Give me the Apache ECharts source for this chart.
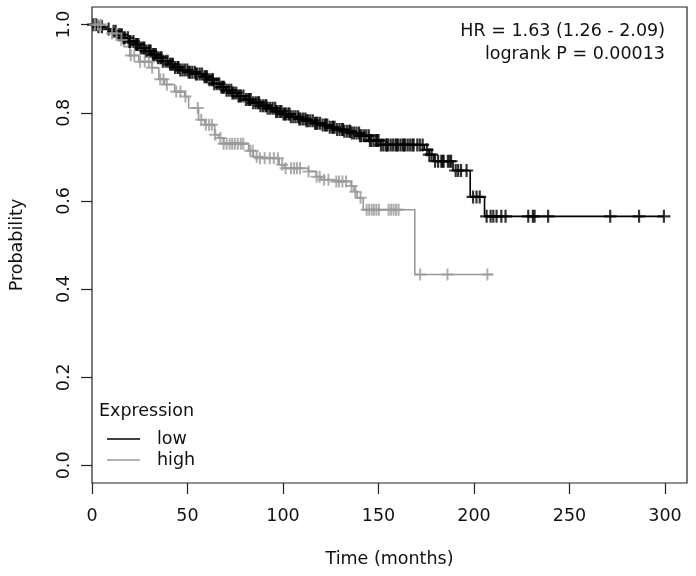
<!DOCTYPE html>
<html>
<head>
<meta charset="utf-8">
<script src="https://cdn.jsdelivr.net/npm/echarts@6/dist/echarts.min.js"></script>
<style>html,body{margin:0;padding:0;background:#fff}#c{width:696px;height:576px}</style>
</head>
<body>
<div id="c"></div>
<script>
// ---- data ----
var xTicks = [0, 50, 100, 150, 200, 250, 300];
var yTicks = [0, 0.2, 0.4, 0.6, 0.8, 1.0];

// Kaplan-Meier step points (time in months, survival probability)
var lowTimes = [0, 3, 7, 10, 13, 16, 19, 22, 25, 28, 31, 34, 37, 40, 43, 46, 50, 54, 58, 61, 64, 67, 70, 73, 76, 80, 84, 88, 92, 96, 100, 104, 108, 112, 116, 120, 124, 128, 132, 136, 140, 145, 151, 174, 176.5, 179, 189, 198, 205.5, 299.5];
var lowSurv  = [1.0, 0.995, 0.99, 0.985, 0.977, 0.97, 0.962, 0.955, 0.947, 0.94, 0.932, 0.925, 0.917, 0.91, 0.903, 0.897, 0.892, 0.888, 0.882, 0.875, 0.866, 0.858, 0.851, 0.845, 0.838, 0.83, 0.823, 0.816, 0.81, 0.803, 0.797, 0.791, 0.786, 0.782, 0.776, 0.772, 0.767, 0.762, 0.758, 0.754, 0.748, 0.737, 0.727, 0.716, 0.705, 0.69, 0.669, 0.609, 0.565, 0.565];

var highTimes = [0, 6.8, 10.4, 14.6, 16.7, 19.8, 24.5, 31.3, 35, 38, 43.3, 48.5, 50.6, 55.8, 59, 64.2, 66.3, 68.9, 82, 84.5, 87.7, 98, 100.7, 113.2, 117.4, 120, 125.2, 135.6, 137.2, 138.8, 142, 169, 210];
var highSurv  = [1.0, 0.99, 0.98, 0.965, 0.95, 0.93, 0.916, 0.902, 0.876, 0.864, 0.848, 0.837, 0.811, 0.784, 0.773, 0.75, 0.743, 0.73, 0.714, 0.70, 0.697, 0.682, 0.674, 0.667, 0.655, 0.648, 0.644, 0.634, 0.621, 0.607, 0.58, 0.433, 0.433];

// censoring times
var lowCensor = [0.8, 2.1, 3.4, 5.2, 8.7, 11.3, 13.9, 15.6, 17.2, 18.8, 20.1, 21.7, 22.9, 24.3, 25.6, 26.8, 28.2, 29.5, 30.7, 31.9, 33.4, 34.6, 35.8, 37.1, 38.5, 39.6, 40.9, 42.3, 43.5, 44.8, 46.2, 47.4, 48.6, 49.9, 51.3, 52.5, 53.8, 55.1, 56.4, 57.6, 58.9, 60.2, 61.5, 62.7, 64.0, 65.3, 66.6, 67.8, 69.1, 70.4, 71.6, 72.9, 74.2, 75.5, 76.7, 78.0, 79.3, 80.6, 81.8, 83.1, 84.4, 85.7, 86.9, 88.2, 89.5, 90.8, 92.0, 93.3, 94.6, 95.9, 97.1, 98.4, 99.2, 100.3, 101.5, 102.8, 104.1, 105.4, 106.6, 107.9, 109.2, 110.5, 111.7, 113.0, 114.3, 115.6, 116.8, 118.1, 119.4, 120.7, 121.9, 123.2, 124.5, 125.8, 127.0, 128.3, 129.6, 130.9, 132.1, 133.4, 134.7, 136.0, 137.2, 138.5, 139.8, 141.1, 143.6, 144.9, 146.2, 147.4, 148.7, 150.0, 151.3, 152.5, 153.8, 155.1, 156.4, 157.6, 158.9, 160.2, 161.5, 162.7, 164.0, 165.3, 166.6, 167.8, 170.3, 173.1, 175.4, 177.8, 179.6, 181.2, 182.9, 184.1, 186.3, 188.0, 190.4, 191.7, 193.2, 196.1, 199.5, 201.3, 203.0, 206.6, 208.7, 210.1, 211.8, 214.3, 216.5, 228.4, 230.8, 231.7, 238.8, 271.3, 286.4, 299.4,
  12.4, 14.8, 16.5, 19.6, 23.5, 27.4, 30.1, 32.6, 36.4, 41.6, 45.3, 50.6, 54.4, 59.5, 63.3, 68.4, 73.5, 77.3, 82.4, 87.5, 91.3, 96.4, 100.9, 103.4, 108.5, 112.3, 117.4, 122.5, 126.3, 131.4, 135.2, 140.3, 142.4, 145.5, 149.3, 154.4, 159.5, 163.3, 168.4, 171.6, 176.6, 183.5, 187.2];
var highCensor = [1.5, 3.2, 4.6, 10.5, 12.8, 15.4, 20.3, 22.1, 25.2, 27.6, 29.8, 31.5, 35.7, 37.4, 39.2, 44.1, 46.3, 48.9, 55.4, 57.2, 59.6, 61.3, 62.8, 64.5, 67.2, 68.9, 70.5, 72.1, 73.4, 74.8, 76.3, 77.9, 79.2, 82.8, 84.1, 86.2, 87.9, 90.4, 93.1, 95.2, 97.3, 99.6, 101.4, 104.2, 105.8, 107.3, 108.9, 113.4, 117.6, 119.2, 121.5, 123.8, 127.9, 129.3, 131.1, 133.0, 135.9, 137.9, 140.6, 143.8, 145.1, 146.4, 147.6, 148.9, 150.2, 155.3, 156.6, 157.9, 159.2, 160.5, 171.8, 186.1, 207.0];

var hrText = 'HR = 1.63 (1.26 - 2.09)';
var pText = 'logrank P = 0.00013';

// ---- build ----
function pairs(t, s) { return t.map(function (v, i) { return [v, s[i]]; }); }
function survAt(t, s, x) { var v = s[0]; for (var i = 0; i < t.length; i++) { if (t[i] <= x) v = s[i]; } return v; }
function censorPts(ct, t, s) { return ct.map(function (x) { return [x, survAt(t, s, x)]; }); }

var FONT = 'DejaVu Sans';
var LOW = '#000000', HIGH = '#9a9a9a';
var plus = 'path://M4.15,0H5.85V4.15H10V5.85H5.85V10H4.15V5.85H0V4.15H4.15Z';

var chart = echarts.init(document.getElementById('c'), null, {renderer: 'canvas'});
chart.setOption({
  animation: false,
  backgroundColor: '#fff',
  textStyle: {fontFamily: FONT},
  grid: {left: 90, right: 9, top: 7, bottom: 93, show: true, borderColor: '#222', borderWidth: 1.2},
  xAxis: {
    type: 'value', min: 0, max: 311.5,
    axisLine: {show: false, onZero: false}, splitLine: {show: false},
    axisTick: {show: true, length: 11, customValues: xTicks, lineStyle: {color: '#222', width: 1.2}},
    axisLabel: {customValues: xTicks, margin: 24, fontSize: 17.5, color: '#111', fontFamily: FONT},
    name: 'Time (months)', nameLocation: 'middle', nameGap: 67,
    nameTextStyle: {fontSize: 17.5, color: '#111', fontFamily: FONT}
  },
  yAxis: {
    type: 'value', min: -0.04, max: 1.04,
    axisLine: {show: false, onZero: false}, splitLine: {show: false},
    axisTick: {show: true, length: 11, customValues: yTicks, lineStyle: {color: '#222', width: 1.2}},
    axisLabel: {customValues: yTicks, rotate: 90, margin: 19, fontSize: 17.5, color: '#111', fontFamily: FONT,
      formatter: function (v) { return v.toFixed(1); }},
    name: 'Probability', nameLocation: 'middle', nameRotate: 90, nameGap: 66,
    nameTextStyle: {fontSize: 17.5, color: '#111', fontFamily: FONT}
  },
  legend: {
    data: ['low', 'high'], orient: 'vertical', left: 102, top: 425, icon: 'rect', itemWidth: 33, itemHeight: 1.4, itemGap: 3,
    textStyle: {fontSize: 17.5, color: '#111', fontFamily: FONT, padding: [0, 0, 0, 12]}
  },
  graphic: [
    {type: 'text', left: 99, top: 402, style: {text: 'Expression', font: '17.5px "DejaVu Sans"', fill: '#111'}},
    {type: 'text', x: 665, y: 22, style: {text: hrText, font: '17.5px "DejaVu Sans"', fill: '#111', align: 'right'}},
    {type: 'text', x: 665, y: 45, style: {text: pText, font: '17.5px "DejaVu Sans"', fill: '#111', align: 'right'}}
  ],
  series: [
    {name: 'low', type: 'line', step: 'end', symbol: 'none', data: pairs(lowTimes, lowSurv),
      lineStyle: {color: LOW, width: 1.6}, itemStyle: {color: LOW}, z: 2},
    {name: 'high', type: 'line', step: 'end', symbol: 'none', data: pairs(highTimes, highSurv),
      lineStyle: {color: HIGH, width: 1.6}, itemStyle: {color: HIGH}, z: 2},
    {name: 'low censored', type: 'scatter', symbol: plus, symbolSize: 13, data: censorPts(lowCensor, lowTimes, lowSurv),
      itemStyle: {color: LOW}, z: 3},
    {name: 'high censored', type: 'scatter', symbol: plus, symbolSize: 12, data: censorPts(highCensor, highTimes, highSurv),
      itemStyle: {color: HIGH}, z: 3}
  ]
});
</script>
</body>
</html>
